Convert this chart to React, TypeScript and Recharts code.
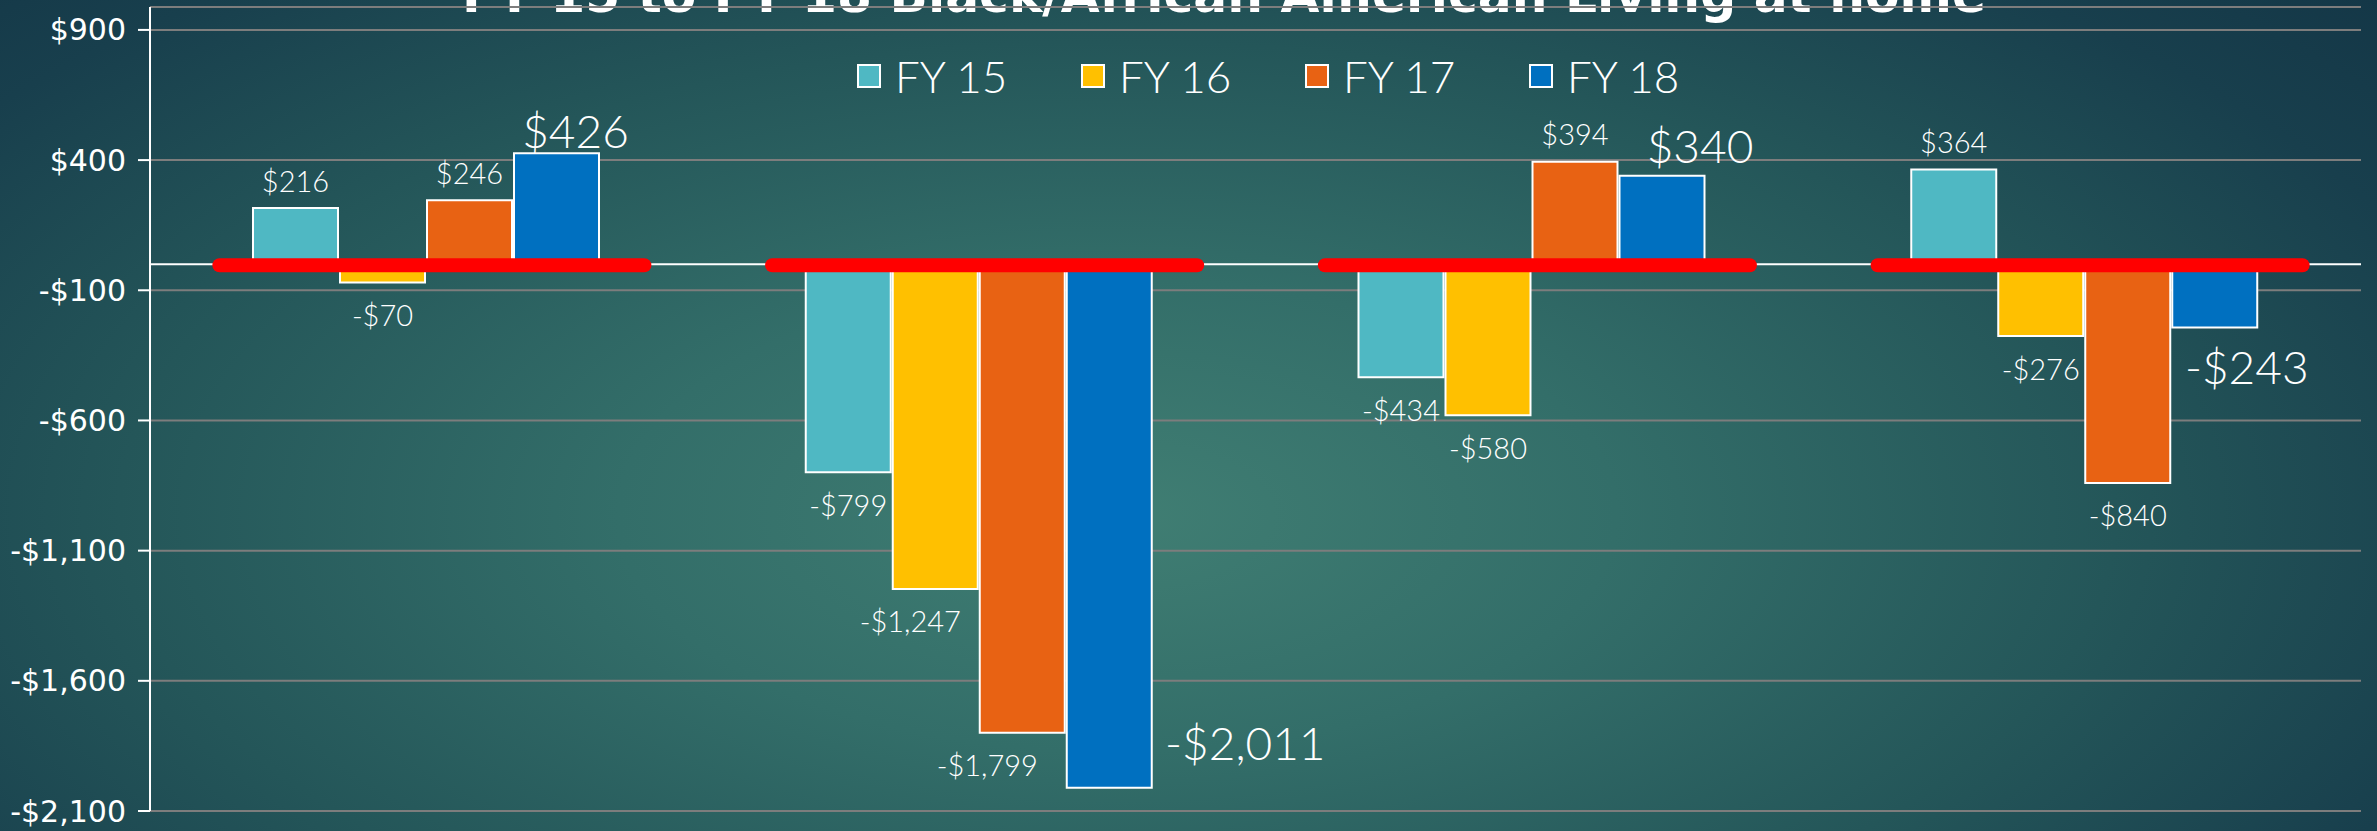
import React from 'react';
import {
  ComposedChart,
  Bar,
  Scatter,
  XAxis,
  YAxis,
  CartesianGrid,
  ReferenceLine,
  Legend,
  LabelList,
} from 'recharts';

// ---- data ----
const CATEGORIES = ['Group 1', 'Group 2', 'Group 3', 'Group 4'];
const SERIES_NAMES = ['FY 15', 'FY 16', 'FY 17', 'FY 18'];
const FY15 = [216, -799, -434, 364];
const FY16 = [-70, -1247, -580, -276];
const FY17 = [246, -1799, 394, -840];
const FY18 = [426, -2011, 340, -243];
const Y_TICKS = [900, 400, -100, -600, -1100, -1600, -2100];
const TITLE = 'FY 15 to FY 18 Black/African American Living at home';

// ---- style ----
const COLORS = ['#4FB8C3', '#FFC000', '#E86213', '#0070C0'];
const W = 2377;
const H = 831;
const LABEL_FONT = 'Lato, "Open Sans", sans-serif';
const AXIS_FONT = '"DejaVu Sans", sans-serif';
// manual nudges of a few labels, as in the original slide (dx, dy relative to default placement)
const SMALL_NUDGE: Record<string, number> = { 'FY 16-1': -25, 'FY 17-1': -35 };
const BIG_OFFSETS = [
  { dx: 19, dy: -23 },
  { dx: 136, dy: -45 },
  { dx: 38, dy: -30 },
  { dx: 32, dy: 39 },
];

const data = CATEGORIES.map((c, i) => ({
  category: c,
  'FY 15': FY15[i],
  'FY 16': FY16[i],
  'FY 17': FY17[i],
  'FY 18': FY18[i],
  baseline: 0,
}));

const fmt = (v: number) => {
  const s = '$' + Math.abs(v).toLocaleString('en-US');
  return v < 0 ? '-' + s : s;
};

const makeSmallLabel = (series: string) => (props: any) => {
  const { x, y, width, height, value, index } = props;
  const top = Math.min(y, y + height);
  const bottom = Math.max(y, y + height);
  const cx = x + width / 2 + (SMALL_NUDGE[`${series}-${index}`] || 0);
  const cy = value >= 0 ? top - 28 : bottom + 32;
  return (
    <text
      x={cx}
      y={cy}
      textAnchor="middle"
      dominantBaseline="central"
      fill="#ffffff"
      fontFamily={LABEL_FONT}
      fontWeight={300}
      fontSize={29}
    >
      {fmt(value)}
    </text>
  );
};

const BigLabel = (props: any) => {
  const { x, y, width, height, value, index } = props;
  const top = Math.min(y, y + height);
  const bottom = Math.max(y, y + height);
  const o = BIG_OFFSETS[index] || { dx: 0, dy: 0 };
  const cx = x + width / 2 + o.dx;
  const cy = (value >= 0 ? top : bottom) + o.dy;
  return (
    <text
      x={cx}
      y={cy}
      textAnchor="middle"
      dominantBaseline="central"
      fill="#ffffff"
      fontFamily={LABEL_FONT}
      fontWeight={300}
      fontSize={46}
    >
      {fmt(value)}
    </text>
  );
};

const YTick = (props: any) => {
  const { x, y, payload } = props;
  return (
    <text
      x={x}
      y={y}
      textAnchor="end"
      dominantBaseline="central"
      fill="#ffffff"
      fontFamily={AXIS_FONT}
      fontSize={30}
    >
      {fmt(payload.value)}
    </text>
  );
};

const RedBar = (props: any) => {
  const { cx, cy } = props;
  if (cx == null || cy == null) return null;
  return <rect x={cx - 214} y={cy - 6} width={439} height={14} rx={7} ry={7} fill="#FF0000" />;
};

const LegendContent = () => (
  <div style={{ display: 'flex', flexDirection: 'row' }}>
    {SERIES_NAMES.map((n, i) => (
      <div key={n} style={{ display: 'flex', alignItems: 'center', width: 224 }}>
        <div
          style={{
            width: 24,
            height: 24,
            background: COLORS[i],
            border: '2px solid #ffffff',
            boxSizing: 'border-box',
            marginRight: 14,
          }}
        />
        <span
          style={{
            color: '#ffffff',
            fontFamily: LABEL_FONT,
            fontWeight: 300,
            fontSize: 44,
            lineHeight: '52px',
          }}
        >
          {n}
        </span>
      </div>
    ))}
  </div>
);

export default function App() {
  return (
    <div
      style={{
        position: 'absolute',
        left: 0,
        top: 0,
        width: W,
        height: H,
        overflow: 'hidden',
        background:
          'radial-gradient(ellipse 70% 95% at 47% 62%, #407e73 0%, #336e69 30%, #245659 60%, #183f4d 85%, #143747 100%)',
      }}
    >
      <svg width={W} height={40} style={{ position: 'absolute', left: 0, top: 0 }}>
        <text
          x={462}
          y={12}
          fill="#ffffff"
          fontFamily={AXIS_FONT}
          fontWeight="bold"
          fontSize={52}
          textLength={1524}
          lengthAdjust="spacingAndGlyphs"
        >
          {TITLE}
        </text>
      </svg>
      <ComposedChart
        width={W}
        height={H}
        data={data}
        margin={{ top: 7, right: 16, bottom: 20, left: 0 }}
        barCategoryGap={103}
        barGap={2}
        style={{ position: 'absolute', left: 0, top: 0 }}
      >
        <CartesianGrid vertical={false} horizontal stroke="#7d7d7d" strokeWidth={2} />
        <XAxis dataKey="category" hide />
        <YAxis
          type="number"
          domain={[-2100, 988]}
          ticks={Y_TICKS}
          interval={0}
          allowDataOverflow
          width={150}
          axisLine={{ stroke: '#ffffff', strokeWidth: 2 }}
          tickLine={{ stroke: '#ffffff', strokeWidth: 2 }}
          tickSize={12}
          tickMargin={12}
          tick={<YTick />}
        />
        <Legend
          verticalAlign="middle"
          align="center"
          layout="horizontal"
          content={<LegendContent />}
          wrapperStyle={{ top: 50, left: 857, width: 900 }}
        />
        <ReferenceLine y={0} stroke="#ffffff" strokeWidth={2} />
        {SERIES_NAMES.map((s, i) => (
          <Bar
            key={s}
            dataKey={s}
            fill={COLORS[i]}
            stroke="#ffffff"
            strokeWidth={2}
            isAnimationActive={false}
          >
            <LabelList dataKey={s} content={i === 3 ? BigLabel : makeSmallLabel(s)} />
          </Bar>
        ))}
        <Scatter dataKey="baseline" shape={RedBar} legendType="none" isAnimationActive={false} />
      </ComposedChart>
    </div>
  );
}
